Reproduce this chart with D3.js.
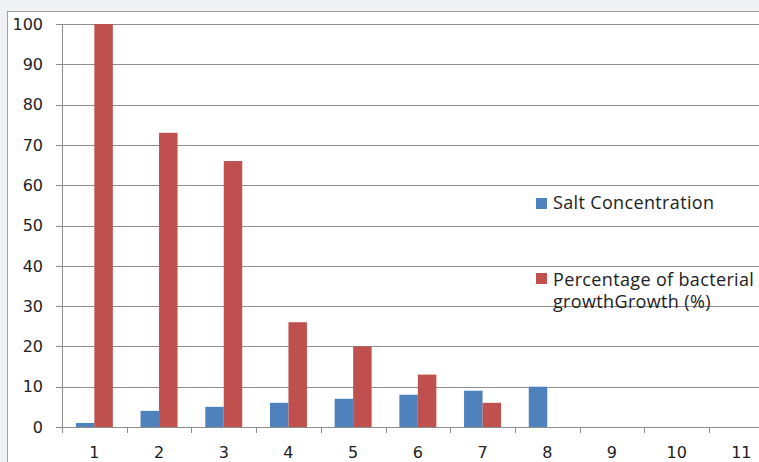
<!DOCTYPE html>
<html>
<head>
<meta charset="utf-8">
<script src="https://cdn.jsdelivr.net/npm/d3@7"></script>
<style>
  body { margin: 0; background: #f0f1f3; }
  svg { display: block; }
</style>
</head>
<body>
<svg id="chart" width="759" height="462"></svg>
<script>
const categories = ['1', '2', '3', '4', '5', '6', '7', '8', '9', '10', '11'];
const saltValues = [1, 4, 5, 6, 7, 8, 9, 10, null, null, null];
const growthValues = [100, 73, 66, 26, 20, 13, 6, null, null, null, null];
const seriesNames = ['Salt Concentration', 'Percentage of bacterial growthGrowth (%)'];
const yTicks = [0, 10, 20, 30, 40, 50, 60, 70, 80, 90, 100];

const svg = d3.select('#chart');

// white chart area, cut off at right and bottom
svg.append('rect')
  .attr('x', 7.5).attr('y', 11.5)
  .attr('width', 800).attr('height', 500)
  .attr('fill', '#fff')
  .attr('stroke', '#a0a0a0');

const plotLeft = 62, plotTop = 24, plotBottom = 427;
const step = 64.7;

const x = d3.scaleBand()
  .domain(categories)
  .range([plotLeft, plotLeft + step * categories.length]);

const y = d3.scaleLinear().domain([0, 100]).range([plotBottom, plotTop]);

const inner = d3.scaleBand()
  .domain([0, 1])
  .range([0, x.bandwidth()])
  .paddingInner(0)
  .paddingOuter(0.75);

// gridlines
svg.append('g')
  .selectAll('line')
  .data(yTicks)
  .join('line')
  .attr('x1', plotLeft - 6)
  .attr('x2', 759)
  .attr('y1', d => Math.round(y(d)) + 0.5)
  .attr('y2', d => Math.round(y(d)) + 0.5)
  .attr('stroke', '#8e8e8e');

// y axis line
svg.append('line')
  .attr('x1', plotLeft + 0.5).attr('x2', plotLeft + 0.5)
  .attr('y1', plotTop).attr('y2', plotBottom + 1)
  .attr('stroke', '#8e8e8e');

// y labels
svg.append('g')
  .selectAll('text')
  .data(yTicks)
  .join('text')
  .attr('x', 43)
  .attr('y', d => y(d))
  .attr('dy', '0.36em')
  .attr('text-anchor', 'end')
  .style('font', '16px "DejaVu Sans", sans-serif')
  .attr('fill', '#222')
  .text(d => d);

// x ticks at category boundaries
svg.append('g')
  .selectAll('line')
  .data(categories)
  .join('line')
  .attr('x1', d => Math.round(x(d)) + 0.5)
  .attr('x2', d => Math.round(x(d)) + 0.5)
  .attr('y1', plotBottom)
  .attr('y2', plotBottom + 6)
  .attr('stroke', '#8e8e8e');

// x labels
svg.append('g')
  .selectAll('text')
  .data(categories)
  .join('text')
  .attr('x', d => x(d) + x.bandwidth() / 2)
  .attr('y', 458)
  .attr('text-anchor', 'middle')
  .style('font', '16px "DejaVu Sans", sans-serif')
  .attr('fill', '#222')
  .text(d => d);

const colors = ['#4f81bd', '#c0504d'];
const series = [saltValues, growthValues];

series.forEach((vals, si) => {
  svg.append('g')
    .selectAll('rect')
    .data(categories.map((c, i) => ({ c, v: vals[i] })).filter(d => d.v != null))
    .join('rect')
    .attr('x', d => x(d.c) + inner(si))
    .attr('width', inner.bandwidth())
    .attr('y', d => y(d.v))
    .attr('height', d => y(0) - y(d.v))
    .attr('fill', colors[si]);
});

// legend
const legend = svg.append('g')
  .style('font', '18px "Open Sans", "Noto Sans", sans-serif')
  .style('letter-spacing', '0.35px');
legend.append('rect').attr('x', 536).attr('y', 198).attr('width', 11).attr('height', 11).attr('fill', colors[0]);
legend.append('text').attr('x', 553).attr('y', 209).attr('fill', '#222').text(seriesNames[0]);
legend.append('rect').attr('x', 536).attr('y', 273).attr('width', 11).attr('height', 11).attr('fill', colors[1]);
legend.append('text').attr('x', 553).attr('y', 286).attr('fill', '#222').text('Percentage of bacterial');
legend.append('text').attr('x', 553).attr('y', 308).attr('fill', '#222').text('growthGrowth (%)');
</script>
</body>
</html>
